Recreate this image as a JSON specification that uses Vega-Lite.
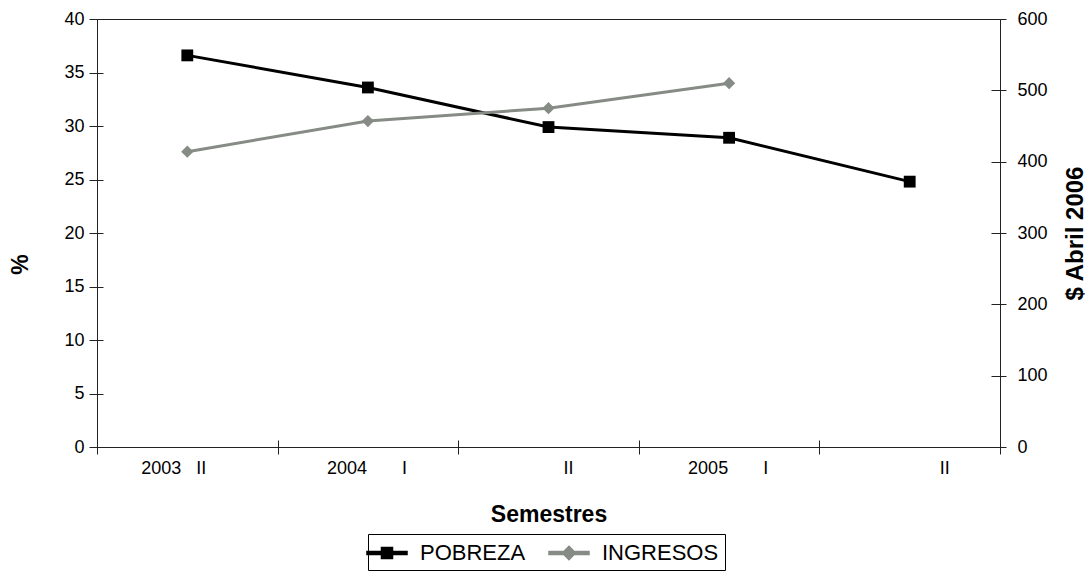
{
  "$schema": "https://vega.github.io/schema/vega-lite/v6.json",
  "autosize": {"type": "none"},
  "width": 903,
  "height": 428,
  "padding": {"left": 97, "top": 19, "right": 91, "bottom": 130},
  "background": "white",
  "config": {
    "font": "Liberation Sans",
    "view": {"stroke": "#222", "strokeWidth": 1},
    "axis": {
      "labelFont": "Liberation Sans",
      "labelFontSize": 18,
      "labelColor": "#000",
      "titleFont": "Liberation Sans",
      "titleFontSize": 23,
      "titleFontWeight": "bold",
      "titleColor": "#000",
      "domainColor": "#222",
      "tickColor": "#222",
      "grid": false
    },
    "legend": {
      "labelFont": "Liberation Sans",
      "labelFontSize": 22,
      "labelColor": "#000"
    }
  },
  "data": {
    "values": [
      {"sem": "2003 II", "serie": "POBREZA", "valor": 36.6},
      {"sem": "2004 I", "serie": "POBREZA", "valor": 33.6},
      {"sem": "2004 II", "serie": "POBREZA", "valor": 29.9},
      {"sem": "2005 I", "serie": "POBREZA", "valor": 28.9},
      {"sem": "2005 II", "serie": "POBREZA", "valor": 24.8},
      {"sem": "2003 II", "serie": "INGRESOS", "valor": 414},
      {"sem": "2004 I", "serie": "INGRESOS", "valor": 457},
      {"sem": "2004 II", "serie": "INGRESOS", "valor": 475},
      {"sem": "2005 I", "serie": "INGRESOS", "valor": 510}
    ]
  },
  "layer": [
    {
      "transform": [{"filter": "datum.serie == 'POBREZA'"}],
      "encoding": {
        "x": {
          "field": "sem",
          "type": "ordinal",
          "bandPosition": 0.5,
          "sort": ["2003 II", "2004 I", "2004 II", "2005 I", "2005 II"],
          "scale": {"type": "band", "paddingInner": 0, "paddingOuter": 0},
          "axis": {
            "orient": "bottom",
            "title": "Semestres",
            "labelAngle": 0,
            "bandPosition": 0,
            "tickSize": 8,
            "tickOpacity": 0,
            "labelPadding": 4,
            "labelAlign": "left",
            "labelOverlap": false,
            "labelOffset": {
              "condition": [
                {"test": "datum.value == '2003 II'", "value": -46},
                {"test": "datum.value == '2004 I'", "value": -41},
                {"test": "datum.value == '2004 II'", "value": 15},
                {"test": "datum.value == '2005 I'", "value": -41}
              ],
              "value": 30
            },
            "labelExpr": "datum.value == '2003 II' ? '2003\u00a0\u00a0\u00a0II' : datum.value == '2004 I' ? '2004\u00a0\u00a0\u00a0\u00a0\u00a0\u00a0\u00a0I' : datum.value == '2005 I' ? '2005\u00a0\u00a0\u00a0\u00a0\u00a0\u00a0\u00a0I' : 'II'",
            "titleY": 67,
            "titleBaseline": "middle"
          }
        },
        "y": {
          "field": "valor",
          "type": "quantitative",
          "scale": {"domain": [0, 40], "nice": false},
          "axis": {
            "orient": "left",
            "title": "%",
            "values": [0, 5, 10, 15, 20, 25, 30, 35, 40],
            "tickSize": 8,
            "labelPadding": 5,
            "titleAngle": 270,
            "titleX": -77,
            "titleY": 245,
            "titleAlign": "center",
            "titleBaseline": "middle"
          }
        }
      },
      "layer": [
        {
          "mark": {"type": "line", "strokeWidth": 3},
          "encoding": {
            "color": {
              "field": "serie",
              "type": "nominal",
              "scale": {"domain": ["POBREZA", "INGRESOS"], "range": ["#000000", "#868b86"]},
              "legend": {
                "title": null,
                "orient": "none",
                "direction": "horizontal",
                "legendX": 271,
                "legendY": 515,
                "strokeColor": "#000",
                "padding": 6,
                "symbolSize": 576,
                "labelOffset": 20,
                "columnPadding": 19,
                "encode": {
                  "symbols": {
                    "update": {
                      "shape": {"signal": "datum.value == 'POBREZA' ? 'M-1.667,-0.125H1.667V0.125H-1.667Z M-0.46,-0.46H0.46V0.46H-0.46Z' : 'M-1.667,-0.125H1.667V0.125H-1.667Z M0,-0.55L0.55,0L0,0.55L-0.55,0Z'"},
                      "fill": {"signal": "datum.value == 'POBREZA' ? '#000000' : '#868b86'"},
                      "stroke": {"value": "transparent"},
                      "fillOpacity": {"value": 1}
                    }
                  }
                }
              }
            }
          }
        },
        {
          "mark": {"type": "point", "shape": "square", "filled": true, "size": 140, "color": "#000", "opacity": 1}
        }
      ]
    },
    {
      "transform": [{"filter": "datum.serie == 'INGRESOS'"}],
      "encoding": {
        "x": {
          "field": "sem",
          "type": "ordinal",
          "bandPosition": 0.5,
          "sort": ["2003 II", "2004 I", "2004 II", "2005 I", "2005 II"],
          "scale": {"type": "band", "paddingInner": 0, "paddingOuter": 0, "domain": ["2003 II", "2004 I", "2004 II", "2005 I", "2005 II"]},
          "axis": null
        },
        "y": {
          "field": "valor",
          "type": "quantitative",
          "scale": {"domain": [0, 600], "nice": false},
          "axis": {
            "orient": "right",
            "title": "$ Abril 2006",
            "titleFontSize": 24,
            "values": [0, 100, 200, 300, 400, 500, 600],
            "tickSize": 6,
            "labelPadding": 11,
            "titleAngle": 270,
            "titleX": 75,
            "titleY": 214,
            "titleAlign": "center",
            "titleBaseline": "middle"
          }
        }
      },
      "layer": [
        {
          "mark": {"type": "line", "strokeWidth": 3},
          "encoding": {
            "color": {"field": "serie", "type": "nominal"}
          }
        },
        {
          "mark": {"type": "point", "shape": "diamond", "filled": true, "size": 150, "color": "#868b86", "opacity": 1}
        }
      ]
    },
    {
      "transform": [{"filter": "datum.serie == 'POBREZA'"}],
      "mark": {"type": "point", "opacity": 0},
      "encoding": {
        "x": {
          "field": "sem",
          "type": "ordinal",
          "sort": ["2003 II", "2004 I", "2004 II", "2005 I", "2005 II"],
          "scale": {"type": "band", "paddingInner": 0, "paddingOuter": 0},
          "axis": {"orient": "bottom", "tickBand": "extent", "tickSize": -7, "labels": false, "domain": false, "title": null}
        },
        "y": {
          "field": "valor",
          "type": "quantitative",
          "scale": {"domain": [0, 40], "nice": false},
          "axis": {"orient": "left", "values": [0, 5, 10, 15, 20, 25, 30, 35, 40], "tickSize": -6, "labels": false, "domain": false, "title": null}
        }
      }
    },
    {
      "transform": [{"filter": "datum.serie == 'POBREZA'"}],
      "mark": {"type": "point", "opacity": 0},
      "encoding": {
        "x": {
          "field": "sem",
          "type": "ordinal",
          "sort": ["2003 II", "2004 I", "2004 II", "2005 I", "2005 II"],
          "scale": {"type": "band", "paddingInner": 0, "paddingOuter": 0},
          "axis": {"orient": "bottom", "tickBand": "extent", "tickSize": 7, "labels": false, "domain": false, "title": null}
        },
        "y": {
          "field": "valor",
          "type": "quantitative",
          "scale": {"domain": [0, 40], "nice": false},
          "axis": {"orient": "right", "values": [0, 6.6667, 13.3333, 20, 26.6667, 33.3333, 40], "tickSize": -9, "labels": false, "domain": false, "title": null}
        }
      }
    }
  ],
  "resolve": {
    "scale": {"x": "independent", "y": "independent"},
    "axis": {"x": "independent", "y": "independent"}
  }
}
